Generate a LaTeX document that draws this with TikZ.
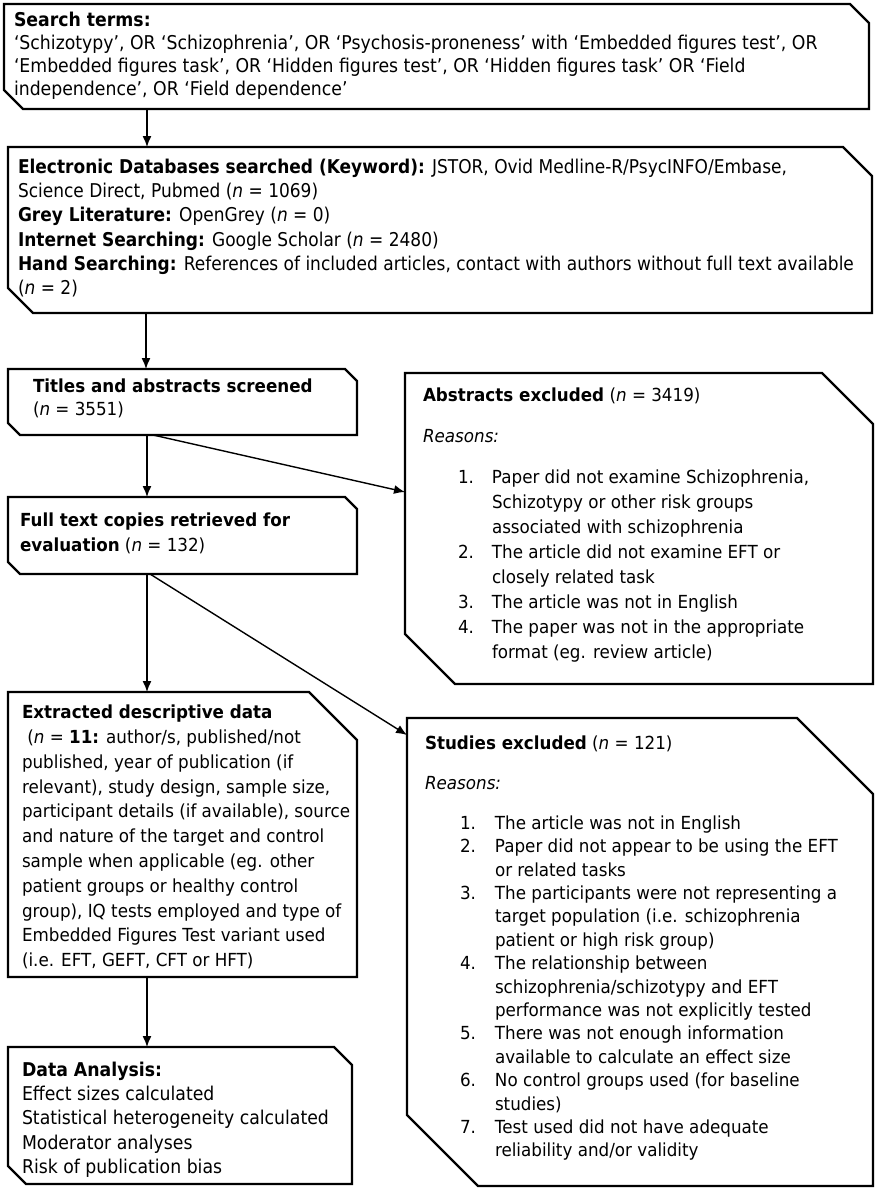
\documentclass[tikz,border=0pt]{standalone}
\usepackage{fontspec}
\setmainfont{DejaVu Sans}[FakeStretch=0.93]
\newfontfamily\narrowfont{DejaVu Sans}[FakeStretch=0.91]
\newfontfamily\narrowerfont{DejaVu Sans}[FakeStretch=0.895]
\usetikzlibrary{arrows.meta,calc}
\newcommand\chamf[3]{%
  \draw[boxline] ([xshift=#3]#1.south west) -- ([yshift=#3]#1.south west) -- (#1.north west)
    -- ([xshift=-#2]#1.north east) -- ([yshift=-#2]#1.north east) -- (#1.south east) -- cycle;}
\tikzset{
  boxshape/.style={draw=none, inner sep=0pt, outer sep=0pt, anchor=north west, shape=rectangle},
  boxline/.style={line width=2.4pt, line join=miter},
  txt/.style={inner sep=0pt, outer sep=0pt, anchor=north west, align=left, font=\fontsize{18}{24.5}\selectfont},
  ntxt/.style={inner sep=0pt, outer sep=0pt, anchor=north west, align=left, font=\narrowfont\fontsize{19}{24.2}\selectfont},
  arr/.style={line width=1.4pt, -{Latex[length=11pt,width=9pt]}},
}
\begin{document}
\begin{tikzpicture}[x=1pt,y=-1pt]
\useasboundingbox (0,0) rectangle (877,1191);
% boxes
\node[boxshape, minimum width=865pt, minimum height=105pt] (b1) at (4,4) {};
\node[boxshape, minimum width=864pt, minimum height=166pt] (b2) at (8,147) {};
\node[boxshape, minimum width=349pt, minimum height=66pt] (b3) at (8,369) {};
\node[boxshape, minimum width=468pt, minimum height=311pt] (b4) at (405,373) {};
\node[boxshape, minimum width=349pt, minimum height=77pt] (b5) at (8,497) {};
\node[boxshape, minimum width=349pt, minimum height=285pt] (b6) at (8,692) {};
\node[boxshape, minimum width=344pt, minimum height=137pt] (b7) at (8,1047) {};
\node[boxshape, minimum width=466pt, minimum height=468pt] (b8) at (407,718) {};
\chamf{b1}{19pt}{19pt}
\chamf{b2}{29pt}{25pt}
\chamf{b3}{12pt}{12pt}
\chamf{b4}{51pt}{50pt}
\chamf{b5}{12pt}{12pt}
\chamf{b6}{48pt}{0pt}
\chamf{b7}{18pt}{18pt}
\chamf{b8}{76pt}{71pt}
% texts
\node[ntxt, font=\narrowfont\fontsize{19}{23}\selectfont] (t1) at (14,12) {\textbf{Search terms:}\\
‘Schizotypy’, OR ‘Schizophrenia’, OR ‘Psychosis-proneness’ with ‘Embedded figures test’, OR\\
‘Embedded figures task’, OR ‘Hidden figures test’, OR ‘Hidden figures task’ OR ‘Field\\
independence’, OR ‘Field dependence’};
\node[ntxt, font=\narrowerfont\fontsize{19}{24.2}\selectfont] (t2) at (18,159) {\textbf{Electronic Databases searched (Keyword):} JSTOR, Ovid Medline-R/PsycINFO/Embase,\\
Science Direct, Pubmed (\textit{n} = 1069)\\
\textbf{Grey Literature:} OpenGrey (\textit{n} = 0)\\
\textbf{Internet Searching:} Google Scholar (\textit{n} = 2480)\\
\textbf{Hand Searching:} References of included articles, contact with authors without full text available\\
(\textit{n} = 2)};
\node[txt, font=\fontsize{18}{22.5}\selectfont] (t3) at (33,379) {\textbf{Titles and abstracts screened}\\(\textit{n} = 3551)};
\node[txt] (t5) at (20,513) {\textbf{Full text copies retrieved for}\\\textbf{evaluation} (\textit{n} = 132)};
\node[txt, font=\fontsize{18}{24.8}\selectfont] (t6) at (22,705) {\textbf{Extracted descriptive data}\\
\ (\textit{n} = \textbf{11:} author/s, published/not\\
published, year of publication (if\\
relevant), study design, sample size,\\
participant details (if available), source\\
and nature of the target and control\\
sample when applicable (eg. other\\
patient groups or healthy control\\
group), IQ tests employed and type of\\
Embedded Figures Test variant used\\
(i.e. EFT, GEFT, CFT or HFT)};
\node[ntxt] (t7) at (22,1062) {\textbf{Data Analysis:}\\
Effect sizes calculated\\
Statistical heterogeneity calculated\\
Moderator analyses\\
Risk of publication bias};
% abstracts excluded
\node[txt] (h4) at (423,388) {\textbf{Abstracts excluded} (\textit{n} = 3419)};
\node[txt] (r4) at (423,429) {\textit{Reasons:}};
\node[txt, font=\fontsize{18}{25}\selectfont] (l4) at (458,466) {\begin{tabular}{@{}p{34pt}@{}l@{}}
1. & Paper did not examine Schizophrenia,\\
   & Schizotypy or other risk groups\\
   & associated with schizophrenia\\
2. & The article did not examine EFT or\\
   & closely related task\\
3. & The article was not in English\\
4. & The paper was not in the appropriate\\
   & format (eg. review article)
\end{tabular}};
% studies excluded
\node[txt] (h8) at (425,736) {\textbf{Studies excluded} (\textit{n} = 121)};
\node[txt] (r8) at (425,776) {\textit{Reasons:}};
\node[txt, font=\fontsize{18}{23.4}\selectfont] (l8) at (460,813) {\begin{tabular}{@{}p{35pt}@{}l@{}}
1. & The article was not in English\\
2. & Paper did not appear to be using the EFT\\
   & or related tasks\\
3. & The participants were not representing a\\
   & target population (i.e. schizophrenia\\
   & patient or high risk group)\\
4. & The relationship between\\
   & schizophrenia/schizotypy and EFT\\
   & performance was not explicitly tested\\
5. & There was not enough information\\
   & available to calculate an effect size\\
6. & No control groups used (for baseline\\
   & studies)\\
7. & Test used did not have adequate\\
   & reliability and/or validity
\end{tabular}};
% connectors
\draw[arr] ([xshift=143pt]b1.south west) -- ([xshift=139pt]b2.north west);
\draw[arr] ([xshift=138pt]b2.south west) -- ([xshift=138pt]b3.north west);
\draw[arr] ([xshift=139pt]b3.south west) -- ([xshift=139pt]b5.north west);
\draw[arr] ([xshift=145pt]b3.south west) -- ([yshift=-119pt]b4.north west);
\draw[arr] ([xshift=139pt]b5.south west) -- ([xshift=139pt]b6.north west);
\draw[arr] ([xshift=142pt]b5.south west) -- ([yshift=-17pt]b8.north west);
\draw[arr] ([xshift=139pt]b6.south west) -- ([xshift=139pt]b7.north west);
\end{tikzpicture}
\end{document}
